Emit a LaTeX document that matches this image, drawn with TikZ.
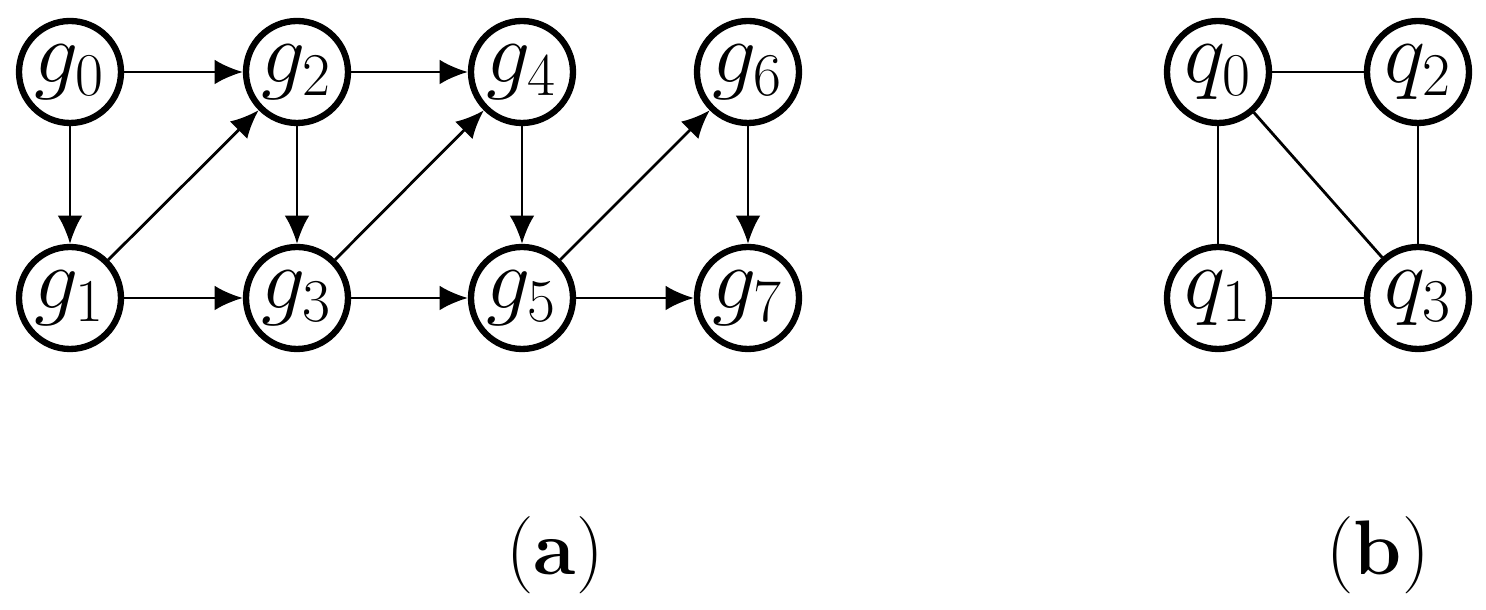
\documentclass[tikz,border=0pt]{standalone}
\usepackage{amsmath}
\usetikzlibrary{arrows.meta}
\tikzset{
  vert/.style={draw, circle, line width=1.8pt, minimum size=1.02cm, inner sep=0pt, font=\fontsize{24}{26}\selectfont},
  arc/.style={line width=0.8pt, -{Latex[length=8pt,width=7pt]}},
  edge/.style={line width=0.8pt}
}
\begin{document}
\begin{tikzpicture}
  \useasboundingbox (0,0) rectangle (14.86,-6.10);
  % graph (a)
  \node[vert] (g0) at (0.70,-0.72) {$g_{\scriptstyle 0}$};
  \node[vert] (g2) at (2.97,-0.72) {$g_{\scriptstyle 2}$};
  \node[vert] (g4) at (5.22,-0.72) {$g_{\scriptstyle 4}$};
  \node[vert] (g6) at (7.48,-0.72) {$g_{\scriptstyle 6}$};
  \node[vert] (g1) at (0.70,-2.98) {$g_{\scriptstyle 1}$};
  \node[vert] (g3) at (2.97,-2.98) {$g_{\scriptstyle 3}$};
  \node[vert] (g5) at (5.22,-2.98) {$g_{\scriptstyle 5}$};
  \node[vert] (g7) at (7.48,-2.98) {$g_{\scriptstyle 7}$};

  \draw[arc] (g0) -- (g2);
  \draw[arc] (g2) -- (g4);
  \draw[arc] (g1) -- (g3);
  \draw[arc] (g3) -- (g5);
  \draw[arc] (g5) -- (g7);
  \draw[arc] (g0) -- (g1);
  \draw[arc] (g2) -- (g3);
  \draw[arc] (g4) -- (g5);
  \draw[arc] (g6) -- (g7);
  \draw[arc] (g1) -- (g2);
  \draw[arc] (g3) -- (g4);
  \draw[arc] (g5) -- (g6);

  % graph (b)
  \node[vert] (q0) at (12.18,-0.72) {$q_{\scriptstyle 0}$};
  \node[vert] (q2) at (14.18,-0.72) {$q_{\scriptstyle 2}$};
  \node[vert] (q1) at (12.18,-2.98) {$q_{\scriptstyle 1}$};
  \node[vert] (q3) at (14.18,-2.98) {$q_{\scriptstyle 3}$};

  \draw[edge] (q0) -- (q2);
  \draw[edge] (q0) -- (q1);
  \draw[edge] (q0) -- (q3);
  \draw[edge] (q2) -- (q3);
  \draw[edge] (q1) -- (q3);

  \node[font=\fontsize{22}{24}\selectfont] (capa) at (5.55,-5.55) {(\textbf{a})};
  \node[font=\fontsize{22}{24}\selectfont] (capb) at (13.78,-5.55) {(\textbf{b})};
\end{tikzpicture}
\end{document}
